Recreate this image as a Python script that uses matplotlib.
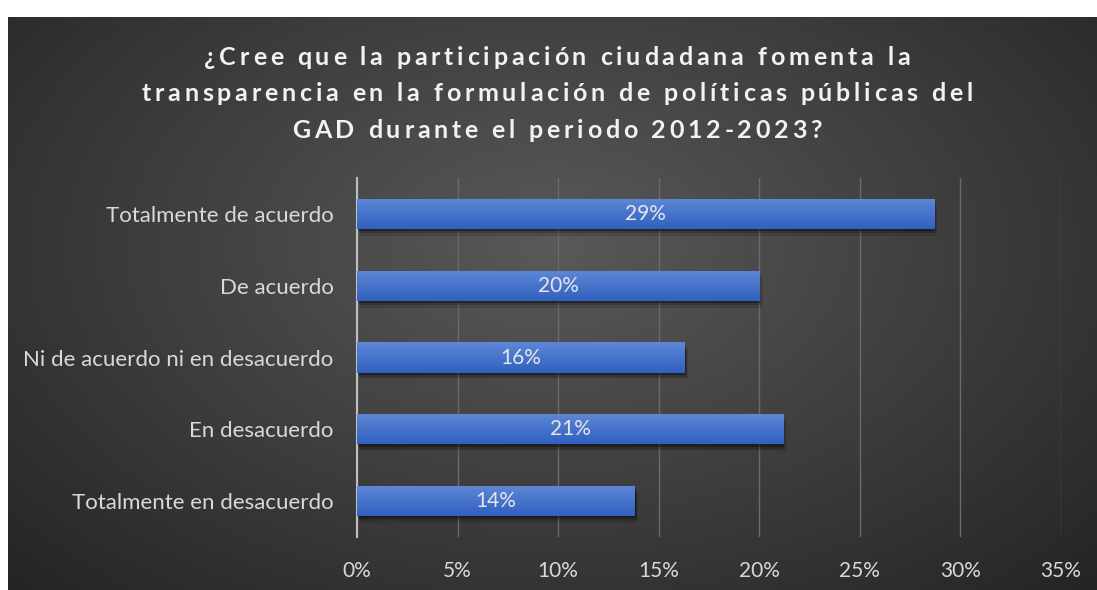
import numpy as np
import matplotlib.pyplot as plt
from matplotlib.ticker import FuncFormatter
from matplotlib.font_manager import FontProperties

# data
categories = ['Totalmente de acuerdo', 'De acuerdo', 'Ni de acuerdo ni en desacuerdo',
              'En desacuerdo', 'Totalmente en desacuerdo']
values = [28.7, 20.0, 16.3, 21.2, 13.8]
value_labels = ['29%', '20%', '16%', '21%', '14%']
x_ticks = [0, 5, 10, 15, 20, 25, 30, 35]

title_lines = ['¿Cree que la participación ciudadana fomenta la',
               'transparencia en la formulación de políticas públicas del',
               'GAD durante el periodo 2012-2023?']

plt.rcParams['font.family'] = ['Lato', 'DejaVu Sans']

W, H = 1097, 590
fig = plt.figure(figsize=(W / 100, H / 100), dpi=100, facecolor='white')

# dark radial-gradient chart background
bg = fig.add_axes([8 / W, 0, 1 - 8 / W, 1 - 17 / H])
bg.set_axis_off()
gy, gx = np.mgrid[0:1:300j, 0:1:600j]
r = np.sqrt(((gx - 0.5) / 0.75) ** 2 + ((gy - 0.6) / 0.9) ** 2)
shade = np.clip(0.35 - 0.22 * r, 0.13, 0.35)
bg.imshow(np.dstack([shade] * 3), aspect='auto', extent=[0, 1, 0, 1], origin='lower')

ax = fig.add_axes([357 / W, 1 - 537 / H, (1061 - 357) / W, (537 - 178) / H])
ax.patch.set_alpha(0)

y = np.arange(len(categories))
# soft shadow
for k, a in [(0.16, 0.12), (0.1, 0.2), (0.05, 0.3)]:
    ax.barh(y + k * 0.6, values, height=0.42, left=k, color='black', alpha=a,
            linewidth=0, zorder=2)
bars = ax.barh(y, values, height=0.42, color='#4673cb', linewidth=0, zorder=3)

# vertical blue gradient inside each bar
grad = np.linspace(0, 1, 64).reshape(-1, 1)
top_c = np.array([0.37, 0.53, 0.84])
bot_c = np.array([0.19, 0.38, 0.75])
grad_img = top_c + (bot_c - top_c) * grad[:, :, None]
for b in bars:
    im = ax.imshow(grad_img, aspect='auto', zorder=3.5,
                   extent=[b.get_x(), b.get_x() + b.get_width(),
                           b.get_y() + b.get_height(), b.get_y()])
    im.set_clip_path(b)

for b, lab in zip(bars, value_labels):
    ax.text(b.get_width() / 2, b.get_y() + b.get_height() / 2, lab,
            ha='center', va='center', color='#e6e6e6', fontsize=15, zorder=4)

ax.set_xlim(0, 35)
ax.set_ylim(len(categories) - 0.5, -0.5)
ax.set_xticks(x_ticks)
ax.xaxis.set_major_formatter(FuncFormatter(lambda v, p: f'{v:.0f}%'))
ax.set_yticks(y)
ax.set_yticklabels(categories)
ax.tick_params(axis='x', length=0, colors='#d9d9d9', labelsize=15, pad=17)
ax.tick_params(axis='y', length=0, colors='#d9d9d9', labelsize=16, pad=17)

ax.grid(axis='x', color='#6b6b6b', linewidth=1)
ax.set_axisbelow(True)
for s in ['top', 'right', 'bottom']:
    ax.spines[s].set_visible(False)
ax.spines['left'].set_color('#bfbfbf')
ax.spines['left'].set_linewidth(1.5)

# title with letter spacing, drawn char by char
renderer = fig.canvas.get_renderer()
tprop = FontProperties(family=['Lato', 'DejaVu Sans'], weight='bold', size=18)


def char_widths(s):
    return [renderer.get_text_width_height_descent(c, tprop, ismath=False)[0] for c in s]


ref_w = char_widths(title_lines[1])
tracking = (831 - sum(ref_w)) / (len(title_lines[1]) - 1)
baselines = [65, 101, 138]
for line, base in zip(title_lines, baselines):
    ws = char_widths(line)
    total = sum(ws) + tracking * (len(line) - 1)
    x = 557 - total / 2
    for c, w in zip(line, ws):
        fig.text(x / W, 1 - base / H, c, ha='left', va='baseline', color='#f2f2f2',
                 fontproperties=tprop)
        x += w + tracking

fig.savefig('out.png', dpi=100, facecolor='white')
